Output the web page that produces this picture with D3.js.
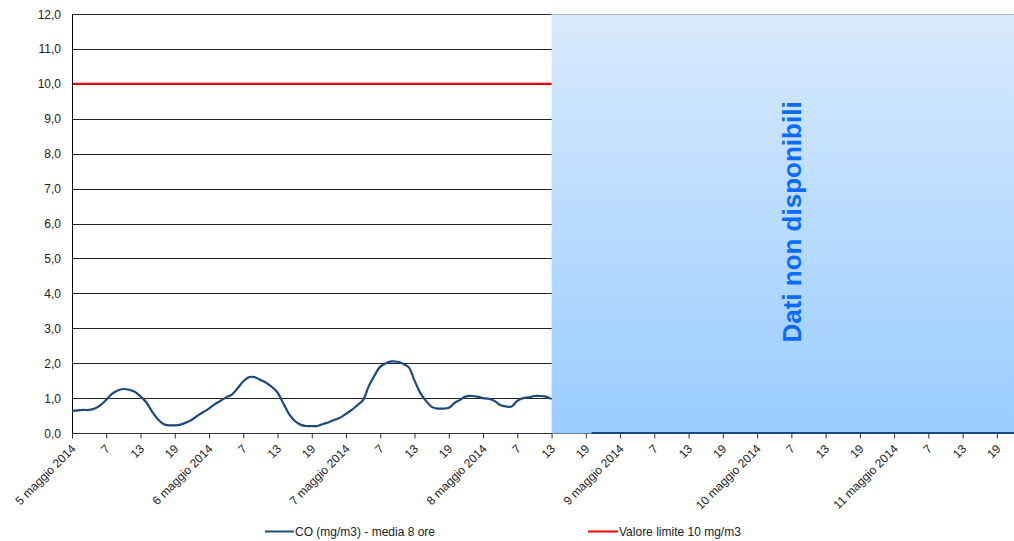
<!DOCTYPE html>
<html><head><meta charset="utf-8">
<script src="https://cdn.jsdelivr.net/npm/d3@7"></script>
<style>body{margin:0;background:#fff}svg{display:block;font-family:Arial,"Liberation Sans",sans-serif}</style>
</head><body>
<svg id="c" width="1014" height="541"></svg>
<script>
// hourly CO (mg/m3) – media 8 ore, from 5 maggio 2014 h1 (index 0) to 8 maggio h13 (index 84)
const coValues = [0.63,0.65,0.66,0.66,0.70,0.80,0.95,1.12,1.22,1.26,1.24,1.18,1.05,0.88,0.62,0.40,0.26,0.22,0.22,0.24,0.30,0.38,0.50,0.60,
0.70,0.82,0.92,1.02,1.10,1.28,1.48,1.60,1.60,1.52,1.44,1.32,1.16,0.85,0.55,0.35,0.24,0.20,0.20,0.20,0.26,0.31,0.38,0.44,
0.55,0.66,0.80,0.95,1.35,1.65,1.90,2.00,2.05,2.04,1.98,1.88,1.50,1.15,0.92,0.75,0.70,0.70,0.72,0.86,0.95,1.05,1.06,1.04,
1.00,0.98,0.92,0.80,0.76,0.76,0.92,1.00,1.02,1.06,1.06,1.04,0.97];
// missing hours (index 85..90) then zero-reported hours (index 91..165)
const missingValues = [null,null,null,null,null,null];
const zeroValues = [0,0,0,0,0,0,0,0,0,0,0,0,0,0,0,0,0,0,0,0,0,0,0,0,0,0,0,0,0,0,0,0,0,0,0,0,0,0,
0,0,0,0,0,0,0,0,0,0,0,0,0,0,0,0,0,0,0,0,0,0,0,0,0,0,0,0,0,0,0,0,0,0,0,0,0];
const limitValue = 10;
const days = ["5 maggio 2014","6 maggio 2014","7 maggio 2014","8 maggio 2014","9 maggio 2014","10 maggio 2014","11 maggio 2014"];
const hourLabels = ["7","13","19"];
const yTicks = [0,1,2,3,4,5,6,7,8,9,10,11,12];
const unavailableFrom = 84; // index where data becomes unavailable
const unavailableText = "Dati non disponibili";
const legendLabels = ["CO (mg/m3) - media 8 ore","Valore limite 10 mg/m3"];

const series = coValues.concat(missingValues, zeroValues);
const svg = d3.select("#c");
const L = 72, R = 1014, T = 14, B = 433;
const x = d3.scaleLinear().domain([0, 165]).range([L, R]);
const y = d3.scaleLinear().domain([0, 12]).range([B, T]);

// tick labels
const tickVals = [], tickText = [];
days.forEach((d, i) => {
  tickVals.push(i * 24); tickText.push(d);
  hourLabels.forEach((h, j) => { tickVals.push(i * 24 + (j + 1) * 6); tickText.push(h); });
});

// gridlines
svg.append("g").selectAll("line").data(yTicks.filter(v => v > 0)).join("line")
  .attr("x1", L).attr("x2", R)
  .attr("y1", d => Math.round(y(d)) + 0.5).attr("y2", d => Math.round(y(d)) + 0.5)
  .attr("stroke", "#222").attr("stroke-width", 1);

// y labels
svg.append("g").selectAll("text").data(yTicks).join("text")
  .attr("x", 61).attr("y", d => y(d) + 4.5)
  .attr("text-anchor", "end").attr("font-size", 12).attr("fill", "#222")
  .text(d => d.toFixed(1).replace(".", ","));

// limit line
svg.append("line").attr("x1", L).attr("x2", R)
  .attr("y1", y(limitValue)).attr("y2", y(limitValue))
  .attr("stroke", "#ff0000").attr("stroke-width", 2);

// x axis
const xAxis = d3.axisBottom(x).tickValues(tickVals).tickSize(5).tickFormat((d, i) => tickText[i]);
const gx = svg.append("g").attr("transform", `translate(0,${B + 0.5})`).call(xAxis);
gx.select(".domain").attr("stroke", "#333").attr("d", `M${L},0H${R}`);
gx.selectAll(".tick line").attr("stroke", "#333");
gx.selectAll(".tick text").attr("font-size", 12).attr("fill", "#222")
  .attr("text-anchor", "end").attr("dy", 0).attr("y", 0)
  .attr("transform", "translate(4,16) rotate(-45)");

// y axis line
svg.append("line").attr("x1", L + 0.5).attr("x2", L + 0.5).attr("y1", T).attr("y2", B)
  .attr("stroke", "#000");

// unavailable region
const defs = svg.append("defs");
const grad = defs.append("linearGradient").attr("id", "g").attr("x1", 0).attr("x2", 0).attr("y1", 0).attr("y2", 1);
grad.append("stop").attr("offset", 0).attr("stop-color", "#d8eafd");
grad.append("stop").attr("offset", 1).attr("stop-color", "#99ccff");
svg.append("rect").attr("x", x(unavailableFrom)).attr("y", T)
  .attr("width", R - x(unavailableFrom)).attr("height", B - T + 0.5)
  .attr("fill", "url(#g)");
svg.append("line").attr("x1", x(unavailableFrom)).attr("x2", R).attr("y1", T + 0.5).attr("y2", T + 0.5)
  .attr("stroke", "#a9b9cc");
svg.append("text")
  .attr("transform", `translate(801,222) rotate(-90)`)
  .attr("text-anchor", "middle").attr("font-size", 26).attr("font-weight", "bold")
  .attr("fill", "#0a6cff").text(unavailableText);

// CO series
const line = d3.line().defined(d => d != null).x((d, i) => x(i)).y(d => y(d)).curve(d3.curveCatmullRom.alpha(0.5));
svg.append("path").datum(series).attr("d", line)
  .attr("fill", "none").attr("stroke", "#1c4a7c").attr("stroke-width", 2.2).attr("stroke-linejoin", "round");

// legend
const lg = svg.append("g");
lg.append("line").attr("x1", 265).attr("x2", 294).attr("y1", 531.5).attr("y2", 531.5).attr("stroke", "#1c4a7c").attr("stroke-width", 2);
lg.append("text").attr("x", 295).attr("y", 536).attr("font-size", 12).attr("fill", "#222").text(legendLabels[0]);
lg.append("line").attr("x1", 588).attr("x2", 618).attr("y1", 531.5).attr("y2", 531.5).attr("stroke", "#ff0000").attr("stroke-width", 2);
lg.append("text").attr("x", 619).attr("y", 536).attr("font-size", 12).attr("fill", "#222").text(legendLabels[1]);
</script>
</body></html>
